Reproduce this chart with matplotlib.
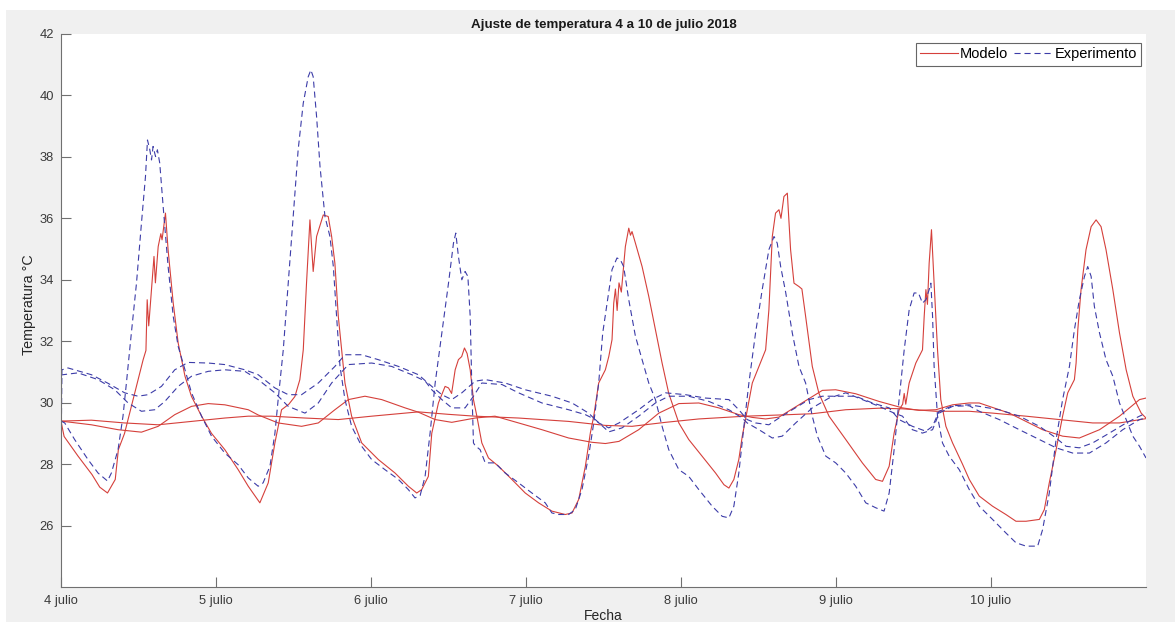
import matplotlib
matplotlib.use("Agg")
import matplotlib.pyplot as plt
from matplotlib.patches import Rectangle
from matplotlib.lines import Line2D

plt.rcParams['font.family'] = ['Liberation Sans', 'DejaVu Sans']

# ---- data: elapsed days since 4 julio 00:00, temperature in °C ----
day_labels = ["4 julio", "5 julio", "6 julio", "7 julio", "8 julio", "9 julio", "10 julio"]
y_ticks = [26, 28, 30, 32, 34, 36, 38, 40, 42]

# Modelo, main daily swing
t_mod_1 = [0.00, 0.02, 0.11, 0.20, 0.25, 0.30, 0.35, 0.37, 0.41, 0.465, 0.53, 0.548, 0.556, 0.566,
           0.60, 0.609, 0.627, 0.644, 0.652, 0.674, 0.691, 0.724, 0.756, 0.80, 0.842, 0.907, 0.971,
           1.057, 1.143, 1.208, 1.283, 1.337, 1.38, 1.423, 1.47, 1.509, 1.541, 1.563, 1.584, 1.606,
           1.627, 1.649, 1.692, 1.724, 1.746, 1.767, 1.789, 1.832, 1.875, 1.94, 2.047, 2.155, 2.241,
           2.295, 2.327, 2.37, 2.392, 2.435, 2.478, 2.50, 2.52, 2.543, 2.564, 2.585, 2.603, 2.62,
           2.64, 2.661, 2.683, 2.715, 2.758, 2.823, 2.909, 2.995, 3.081, 3.167, 3.253, 3.297, 3.34,
           3.383, 3.415, 3.437, 3.469, 3.512, 3.534, 3.555, 3.566, 3.577, 3.588, 3.60, 3.615, 3.641,
           3.663, 3.674, 3.684, 3.706, 3.749, 3.792, 3.835, 3.878, 3.921, 3.986, 4.05, 4.136, 4.223,
           4.277, 4.309, 4.341, 4.373, 4.395, 4.416, 4.46, 4.503, 4.546, 4.567, 4.589, 4.61, 4.632,
           4.645, 4.664, 4.686, 4.707, 4.729, 4.761, 4.78, 4.804, 4.847, 4.89, 4.955, 5.063, 5.17,
           5.256, 5.30, 5.343, 5.375, 5.407, 5.43, 5.44, 5.45, 5.472, 5.515, 5.558, 5.569, 5.58,
           5.59, 5.601, 5.616, 5.633, 5.655, 5.676, 5.709, 5.752, 5.816, 5.86, 5.924, 6.01, 6.096,
           6.161, 6.226, 6.312, 6.344, 6.376, 6.42, 6.462, 6.495, 6.538, 6.549, 6.56, 6.581, 6.613,
           6.646, 6.678, 6.71, 6.742, 6.786, 6.829, 6.872, 6.915, 6.969, 7.00]
T_mod_1 = [29.40, 28.90, 28.26, 27.66, 27.25, 27.06, 27.50, 28.47, 29.00, 30.10, 31.40, 31.70, 33.35, 32.50,
           34.76, 33.90, 35.08, 35.50, 35.30, 36.17, 34.97, 33.24, 31.94, 30.86, 30.20, 29.56, 29.00,
           28.47, 27.82, 27.28, 26.74, 27.39, 28.69, 29.77, 29.95, 30.20, 30.75, 31.72, 33.89, 35.95,
           34.27, 35.41, 36.11, 36.06, 35.41, 34.54, 32.81, 30.64, 29.56, 28.69, 28.15, 27.71, 27.28,
           27.06, 27.17, 27.60, 29.00, 29.99, 30.53, 30.48, 30.30, 31.07, 31.40, 31.50, 31.78, 31.60,
           31.07, 30.10, 29.56, 28.69, 28.20, 27.93, 27.50, 27.06, 26.74, 26.47, 26.36, 26.41, 26.85,
           27.93, 29.01, 29.56, 30.64, 31.07, 31.50, 32.05, 33.24, 33.70, 33.00, 33.90, 33.60, 35.08,
           35.68, 35.45, 35.57, 35.19, 34.43, 33.46, 32.37, 31.29, 30.30, 29.34, 28.80, 28.26, 27.71,
           27.33, 27.22, 27.50, 28.15, 28.90, 29.45, 30.64, 31.18, 31.72, 33.02, 35.41, 36.17, 36.28,
           36.00, 36.71, 36.82, 34.98, 33.89, 33.78, 33.70, 32.81, 31.18, 30.30, 29.56, 28.80, 28.04,
           27.50, 27.44, 27.93, 29.01, 29.77, 29.95, 30.30, 29.95, 30.64, 31.29, 31.72, 32.81, 33.68,
           33.20, 34.54, 35.63, 33.89, 31.72, 30.10, 29.23, 28.69, 28.00, 27.50, 26.96, 26.63, 26.36,
           26.14, 26.14, 26.20, 26.52, 27.39, 28.47, 29.56, 30.32, 30.75, 31.29, 32.37, 33.68, 34.98,
           35.73, 35.95, 35.73, 34.98, 33.68, 32.27, 31.07, 30.21, 29.66, 29.50]

# Modelo, slow component with daily wave
t_mod_2 = [0.00, 0.196, 0.368, 0.519, 0.627, 0.734, 0.842, 0.95, 1.057, 1.208, 1.272, 1.401, 1.552,
           1.66, 1.767, 1.854, 1.961, 2.069, 2.22, 2.306, 2.414, 2.521, 2.672, 2.80, 2.952, 3.103,
           3.275, 3.426, 3.512, 3.60, 3.727, 3.857, 3.986, 4.115, 4.244, 4.373, 4.46, 4.546, 4.632,
           4.761, 4.912, 4.998, 5.127, 5.278, 5.429, 5.536, 5.644, 5.752, 5.859, 5.924, 6.118, 6.333,
           6.462, 6.57, 6.70, 6.829, 6.958, 7.00]
T_mod_2 = [29.40, 29.28, 29.12, 29.04, 29.23, 29.61, 29.88, 29.97, 29.93, 29.77, 29.60, 29.34, 29.23,
           29.34, 29.77, 30.10, 30.21, 30.10, 29.83, 29.69, 29.45, 29.36, 29.50, 29.56, 29.34, 29.12,
           28.85, 28.71, 28.67, 28.74, 29.12, 29.66, 29.97, 29.99, 29.83, 29.61, 29.52, 29.47, 29.53,
           29.93, 30.40, 30.42, 30.29, 30.04, 29.83, 29.75, 29.77, 29.93, 29.99, 29.99, 29.66, 29.12,
           28.91, 28.85, 29.12, 29.56, 30.10, 30.15]

# Modelo, nearly flat component
t_mod_3 = [0.00, 0.196, 0.41, 0.627, 0.842, 1.057, 1.208, 1.358, 1.574, 1.789, 2.004, 2.22, 2.306,
           2.50, 2.672, 2.952, 3.275, 3.512, 3.684, 3.90, 4.115, 4.416, 4.696, 4.847, 5.063, 5.278,
           5.429, 5.644, 5.859, 6.01, 6.226, 6.441, 6.656, 6.829, 7.00]
T_mod_3 = [29.40, 29.43, 29.34, 29.28, 29.39, 29.50, 29.56, 29.56, 29.50, 29.45, 29.56, 29.66, 29.70,
           29.62, 29.56, 29.50, 29.39, 29.26, 29.23, 29.36, 29.47, 29.56, 29.61, 29.64, 29.77, 29.82,
           29.80, 29.72, 29.72, 29.66, 29.56, 29.45, 29.34, 29.34, 29.48]

# Experimento, main daily swing
t_exp_1 = [0.00, 0.024, 0.088, 0.174, 0.239, 0.30, 0.325, 0.368, 0.40, 0.422, 0.454, 0.487, 0.519,
           0.545, 0.558, 0.573, 0.584, 0.594, 0.61, 0.622, 0.637, 0.659, 0.691, 0.724, 0.756, 0.80,
           0.842, 0.907, 0.971, 1.057, 1.143, 1.208, 1.272, 1.304, 1.348, 1.38, 1.401, 1.434, 1.466,
           1.498, 1.53, 1.563, 1.595, 1.612, 1.627, 1.649, 1.671, 1.703, 1.735, 1.757, 1.778, 1.80,
           1.832, 1.875, 1.94, 2.004, 2.09, 2.177, 2.241, 2.284, 2.317, 2.349, 2.381, 2.414, 2.457,
           2.50, 2.532, 2.547, 2.564, 2.586, 2.607, 2.625, 2.64, 2.65, 2.661, 2.672, 2.704, 2.737,
           2.80, 2.866, 2.952, 3.038, 3.124, 3.167, 3.21, 3.275, 3.318, 3.361, 3.404, 3.437, 3.469,
           3.495, 3.525, 3.555, 3.587, 3.609, 3.63, 3.663, 3.706, 3.749, 3.792, 3.835, 3.878, 3.921,
           3.986, 4.05, 4.115, 4.201, 4.266, 4.309, 4.341, 4.373, 4.406, 4.438, 4.481, 4.524, 4.567,
           4.60, 4.621, 4.643, 4.675, 4.718, 4.761, 4.804, 4.847, 4.88, 4.934, 4.998, 5.063, 5.127,
           5.192, 5.256, 5.31, 5.343, 5.375, 5.407, 5.44, 5.472, 5.504, 5.532, 5.558, 5.58, 5.601,
           5.612, 5.623, 5.633, 5.655, 5.687, 5.73, 5.795, 5.86, 5.924, 6.01, 6.096, 6.161, 6.226,
           6.301, 6.333, 6.376, 6.42, 6.462, 6.506, 6.538, 6.57, 6.603, 6.624, 6.646, 6.667, 6.70,
           6.742, 6.786, 6.829, 6.872, 6.915, 6.958, 7.00]
T_exp_1 = [29.40, 29.34, 28.80, 28.15, 27.71, 27.45, 27.71, 28.47, 29.56, 30.64, 32.27, 33.89, 35.84,
           37.36, 38.55, 38.23, 37.90, 38.34, 38.01, 38.23, 37.80, 36.39, 34.43, 32.81, 31.83, 31.07,
           30.32, 29.56, 28.91, 28.36, 27.98, 27.55, 27.28, 27.39, 27.93, 29.00, 30.10, 31.72, 33.89,
           36.06, 38.23, 39.75, 40.61, 40.83, 40.61, 39.31, 37.69, 36.06, 35.41, 34.43, 32.81, 31.18,
           30.10, 29.23, 28.58, 28.15, 27.82, 27.50, 27.17, 26.90, 26.98, 27.60, 29.00, 30.64, 32.27,
           33.89, 35.19, 35.52, 34.76, 34.00, 34.27, 34.11, 32.81, 30.64, 28.69, 28.60, 28.47, 28.04,
           28.04, 27.71, 27.39, 27.06, 26.74, 26.41, 26.36, 26.36, 26.52, 27.17, 28.26, 29.34, 30.64,
           32.27, 33.30, 34.33, 34.71, 34.65, 34.43, 33.35, 32.16, 31.40, 30.64, 30.10, 29.23, 28.47,
           27.82, 27.60, 27.17, 26.63, 26.30, 26.25, 26.63, 27.71, 29.23, 30.64, 32.27, 33.68, 34.98,
           35.41, 35.19, 34.43, 33.60, 32.27, 31.18, 30.64, 29.56, 28.91, 28.26, 28.04, 27.71, 27.28,
           26.74, 26.58, 26.47, 27.06, 28.47, 30.10, 31.72, 33.02, 33.57, 33.57, 33.24, 33.35, 33.68,
           33.89, 32.81, 31.18, 29.56, 28.69, 28.26, 27.82, 27.17, 26.63, 26.20, 25.76, 25.44, 25.33,
           25.33, 25.87, 27.06, 28.80, 30.10, 31.18, 32.37, 33.35, 34.11, 34.43, 34.11, 33.13, 32.27,
           31.40, 30.86, 29.99, 29.45, 28.91, 28.58, 28.20]

# Experimento, upper slow component
t_exp_2 = [0.00, 0.006, 0.045, 0.196, 0.30, 0.411, 0.497, 0.562, 0.648, 0.734, 0.82, 0.95, 1.057,
           1.186, 1.272, 1.38, 1.466, 1.552, 1.66, 1.767, 1.832, 1.94, 2.047, 2.177, 2.306, 2.392,
           2.457, 2.521, 2.586, 2.672, 2.737, 2.866, 2.995, 3.167, 3.297, 3.404, 3.469, 3.534, 3.60,
           3.727, 3.813, 3.90, 4.029, 4.158, 4.309, 4.373, 4.427, 4.481, 4.567, 4.632, 4.718, 4.826,
           4.912, 5.02, 5.127, 5.235, 5.343, 5.407, 5.493, 5.58, 5.623, 5.665, 5.752, 5.859, 5.924,
           6.053, 6.183, 6.312, 6.42, 6.484, 6.57, 6.656, 6.764, 6.872, 6.958, 7.00]
T_exp_2 = [28.00, 31.07, 31.13, 30.91, 30.64, 30.32, 30.21, 30.26, 30.53, 31.07, 31.31, 31.29, 31.24,
           31.07, 30.91, 30.48, 30.26, 30.26, 30.64, 31.18, 31.56, 31.56, 31.40, 31.18, 30.91, 30.53,
           30.26, 30.10, 30.32, 30.70, 30.75, 30.64, 30.42, 30.21, 29.99, 29.66, 29.34, 29.18, 29.34,
           29.77, 30.10, 30.32, 30.26, 30.15, 30.10, 29.77, 29.45, 29.34, 29.28, 29.50, 29.77, 30.10,
           30.21, 30.21, 30.21, 29.99, 29.83, 29.45, 29.23, 29.07, 29.23, 29.72, 29.90, 29.93, 29.88,
           29.77, 29.56, 29.23, 28.85, 28.58, 28.53, 28.69, 29.01, 29.34, 29.56, 29.66]

# Experimento, lower slow component
t_exp_3 = [0.00, 0.013, 0.11, 0.239, 0.347, 0.433, 0.519, 0.605, 0.67, 0.756, 0.842, 0.95, 1.057,
           1.186, 1.272, 1.38, 1.466, 1.574, 1.66, 1.746, 1.854, 2.004, 2.133, 2.263, 2.35, 2.392,
           2.457, 2.521, 2.607, 2.661, 2.715, 2.845, 2.952, 3.103, 3.275, 3.383, 3.447, 3.534, 3.62,
           3.727, 3.835, 3.921, 4.05, 4.18, 4.309, 4.395, 4.427, 4.503, 4.589, 4.653, 4.74, 4.847,
           4.955, 5.063, 5.17, 5.278, 5.375, 5.429, 5.493, 5.558, 5.623, 5.665, 5.752, 5.859, 5.924,
           6.053, 6.183, 6.312, 6.42, 6.527, 6.635, 6.742, 6.85, 6.958, 7.00]
T_exp_3 = [30.90, 30.91, 30.97, 30.75, 30.42, 29.99, 29.72, 29.77, 30.04, 30.53, 30.86, 31.02, 31.07,
           31.02, 30.75, 30.32, 29.88, 29.66, 29.99, 30.64, 31.24, 31.29, 31.18, 30.91, 30.70, 30.42,
           30.10, 29.83, 29.83, 30.21, 30.64, 30.59, 30.32, 29.99, 29.77, 29.61, 29.45, 29.05, 29.18,
           29.56, 29.99, 30.21, 30.21, 30.04, 29.77, 29.50, 29.34, 29.12, 28.85, 28.91, 29.34, 29.83,
           30.15, 30.32, 30.10, 29.88, 29.66, 29.56, 29.12, 29.01, 29.12, 29.66, 29.88, 29.90, 29.72,
           29.45, 29.12, 28.80, 28.53, 28.36, 28.36, 28.69, 29.12, 29.45, 29.50]

RED = '#d5403b'
BLUE = '#3c3ca8'
DASH = (5.5, 3.5)
LW = 0.8

W, H = 1175, 622
fig = plt.figure(figsize=(W / 100, H / 100), dpi=100, facecolor='white')
# grey window area behind the axes (white strip along top and left edges)
fig.patches.append(Rectangle((6 / W, 0), 1 - 6 / W, 1 - 10 / H, transform=fig.transFigure,
                             facecolor='#f0f0f0', edgecolor='none', zorder=-10))

ax = fig.add_axes([61 / W, 1 - 587 / H, (1146 - 61) / W, (587 - 34) / H])
ax.set_zorder(1)
ax.set_facecolor('white')

for t, T in [(t_mod_1, T_mod_1), (t_mod_2, T_mod_2), (t_mod_3, T_mod_3)]:
    ax.plot(t, T, color=RED, lw=LW)
for t, T in [(t_exp_1, T_exp_1), (t_exp_2, T_exp_2), (t_exp_3, T_exp_3)]:
    ax.plot(t, T, color=BLUE, lw=LW, dashes=DASH)

ax.set_xlim(0, 7)
ax.set_ylim(24, 42)
ax.set_xticks(range(len(day_labels)))
ax.set_xticklabels(day_labels)
ax.set_yticks(y_ticks)
ax.set_yticklabels([str(v) for v in y_ticks])

for side in ('top', 'right'):
    ax.spines[side].set_visible(False)
for side in ('left', 'bottom'):
    ax.spines[side].set_color('#707070')
    ax.spines[side].set_linewidth(0.8)
ax.tick_params(direction='in', length=7, width=0.8, color='#707070',
               labelcolor='#3a3a3a', labelsize=9.3)
ax.tick_params(axis='x', pad=6)
ax.tick_params(axis='y', pad=5)

handles = [Line2D([], [], color=RED, lw=LW),
           Line2D([], [], color=BLUE, lw=LW, dashes=DASH)]
leg = ax.legend(handles, ['Modelo', 'Experimento'], ncol=2, loc='upper right',
                bbox_to_anchor=((1141 - 61) / (1146 - 61), 1 - (43 - 34) / (587 - 34)),
                borderaxespad=0, fontsize=10.5, frameon=True, fancybox=False,
                handlelength=2.6, handletextpad=0.15, columnspacing=0.4,
                borderpad=0.3)
leg.get_frame().set_edgecolor('#404040')
leg.get_frame().set_linewidth(0.8)

fig.text(603.5 / W, 1 - 25 / H, 'Ajuste de temperatura 4 a 10 de julio 2018',
         ha='center', va='center', fontsize=9.6, fontweight='bold', color='#1a1a1a')
fig.text(29 / W, 1 - 305 / H, 'Temperatura °C', rotation=90, ha='center', va='center',
         fontsize=10.3, color='#262626')
fig.text(603.5 / W, 1 - 616 / H, 'Fecha', ha='center', va='center', fontsize=10, color='#262626')

fig.savefig('out.png', dpi=100, facecolor=fig.get_facecolor())
